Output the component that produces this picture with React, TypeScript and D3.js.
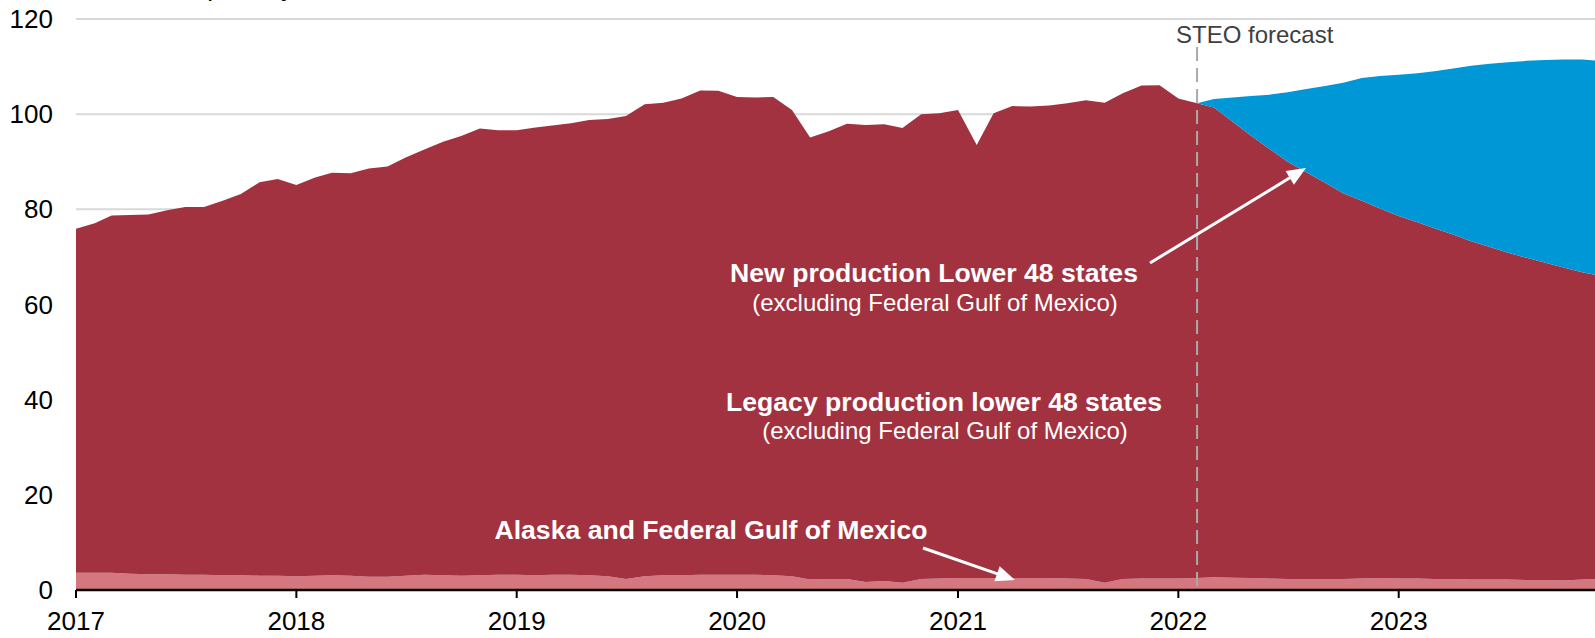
import React from "react";
import * as d3 from "d3";

// Monthly values, Jan 2017 – Dec 2023 (billion cubic feet per day)
const startYear = 2017;
const monthCount = 84;
const forecastStart = 61; // index of Feb 2022

const alaskaGom = [
  3.6, 3.6, 3.6, 3.4, 3.3, 3.3, 3.2, 3.2, 3.1, 3.1, 3.0, 3.0,
  2.9, 3.0, 3.1, 3.0, 2.8, 2.8, 3.0, 3.2, 3.1, 3.0, 3.1, 3.2,
  3.2, 3.1, 3.2, 3.2, 3.1, 2.9, 2.3, 2.9, 3.1, 3.1, 3.2, 3.2,
  3.2, 3.2, 3.1, 2.9, 2.2, 2.3, 2.3, 1.7, 1.9, 1.5, 2.3, 2.4,
  2.5, 2.5, 2.5, 2.5, 2.5, 2.5, 2.4, 2.3, 1.5, 2.3, 2.4, 2.4,
  2.4, 2.5, 2.7, 2.6, 2.5, 2.4, 2.3, 2.3, 2.3, 2.3, 2.4, 2.5,
  2.4, 2.4, 2.3, 2.3, 2.2, 2.2, 2.2, 2.1, 2.1, 2.0, 2.2, 2.3,
];

const legacyL48 = [
  72.3, 73.5, 75.1, 75.4, 75.6, 76.5, 77.3, 77.3, 78.7, 80.1, 82.7, 83.4,
  82.2, 83.7, 84.6, 84.6, 85.8, 86.2, 87.9, 89.4, 91.1, 92.4, 93.9, 93.4,
  93.4, 94.1, 94.4, 94.9, 95.7, 96.1, 97.3, 99.2, 99.3, 100.2, 101.8, 101.7,
  100.4, 100.3, 100.5, 98.0, 92.9, 94.1, 95.7, 96.0, 96.0, 95.6, 97.7, 97.8,
  98.4, 91.0, 97.7, 99.2, 99.1, 99.3, 99.9, 100.6, 100.9, 102.1, 103.6, 103.7,
  100.9, 99.8, 98.7, 95.8, 93.0, 90.3, 87.7, 85.5, 83.3, 81.1, 79.4, 77.7,
  76.2, 74.9, 73.7, 72.4, 71.1, 69.9, 68.7, 67.7, 66.7, 65.8, 64.6, 63.7,
];

const newL48 = [
  0, 0, 0, 0, 0, 0, 0, 0, 0, 0, 0, 0,
  0, 0, 0, 0, 0, 0, 0, 0, 0, 0, 0, 0,
  0, 0, 0, 0, 0, 0, 0, 0, 0, 0, 0, 0,
  0, 0, 0, 0, 0, 0, 0, 0, 0, 0, 0, 0,
  0, 0, 0, 0, 0, 0, 0, 0, 0, 0, 0, 0,
  0, 0, 1.8, 5.1, 8.3, 11.4, 14.6, 17.5, 20.3, 23.2, 25.8, 27.8,
  29.7, 31.3, 33.0, 34.9, 36.9, 38.5, 40.0, 41.4, 42.6, 43.7, 44.7, 45.2,
];

const yearTicks = [2017, 2018, 2019, 2020, 2021, 2022, 2023];
const yTicks = [0, 20, 40, 60, 80, 100, 120];

const W = 1595;
const H = 638;
const FONT = "Arial, 'Liberation Sans', Helvetica, sans-serif";

const C_RED = "#A23240";
const C_PINK = "#D5777F";
const C_BLUE = "#0097D7";

type Row = { date: Date; m: number; alaska: number; legacy: number; newProd: number };

const rows: Row[] = d3.range(monthCount).map((i) => ({
  date: new Date(Date.UTC(startYear, i, 1)),
  m: i,
  alaska: alaskaGom[i],
  legacy: legacyL48[i],
  newProd: newL48[i],
}));

function Arrow({ x1, y1, x2, y2 }: { x1: number; y1: number; x2: number; y2: number }) {
  const dx = x2 - x1;
  const dy = y2 - y1;
  const len = Math.hypot(dx, dy);
  const ux = dx / len;
  const uy = dy / len;
  const hl = 19;
  const hw = 8;
  const bx = x2 - ux * hl;
  const by = y2 - uy * hl;
  const pts = [
    [x2, y2],
    [bx - uy * hw, by + ux * hw],
    [bx + uy * hw, by - ux * hw],
  ]
    .map((p) => p.join(","))
    .join(" ");
  return (
    <g>
      <line x1={x1} y1={y1} x2={bx + ux * 2} y2={by + uy * 2} stroke="#fff" strokeWidth={3} />
      <polygon points={pts} fill="#fff" />
    </g>
  );
}

export default function App() {
  const x = d3
    .scaleUtc()
    .domain([new Date(Date.UTC(2017, 0, 1)), new Date(Date.UTC(2023, 0, 1))])
    .range([76, 1398.7]);
  const y = d3.scaleLinear().domain([0, 120]).range([590, 19]);

  const stack = d3.stack<Row>().keys(["alaska", "legacy", "newProd"]);
  const series = stack(rows);

  const area = d3
    .area<d3.SeriesPoint<Row>>()
    .x((d) => x(d.data.date))
    .y0((d) => y(d[0]))
    .y1((d) => y(d[1]));

  const blueArea = d3
    .area<d3.SeriesPoint<Row>>()
    .defined((d) => d.data.m >= forecastStart)
    .x((d) => x(d.data.date))
    .y0((d) => y(d[0]))
    .y1((d) => y(d[1]));

  const fx = x(new Date(Date.UTC(2022, 1, 1)));

  return (
    <svg
      width={W}
      height={H}
      style={{ position: "absolute", left: 0, top: 0, background: "#fff" }}
      fontFamily={FONT}
    >
      <rect x={0} y={0} width={W} height={H} fill="#fff" />
      <text x={15} y={-4} fontSize={26} fill="#000">
        billion cubic feet per day
      </text>
      {yTicks
        .filter((t) => t > 0)
        .map((t) => (
          <line key={t} x1={76} x2={W} y1={y(t)} y2={y(t)} stroke="#D9D9D9" strokeWidth={2} />
        ))}
      <path d={area(series[0]) || ""} fill={C_PINK} />
      <path d={area(series[1]) || ""} fill={C_RED} />
      <path d={blueArea(series[2]) || ""} fill={C_BLUE} />

      <line
        x1={fx}
        x2={fx}
        y1={47}
        y2={590}
        stroke="#A9A9A9"
        strokeWidth={2}
        strokeDasharray="14,7"
      />
      <text x={1176} y={43} fontSize={24} fill="#404040">
        STEO forecast
      </text>

      <line x1={76} x2={W} y1={590} y2={590} stroke="#000" strokeWidth={2.5} />
      {yearTicks.map((yr) => {
        const px = x(new Date(Date.UTC(yr, 0, 1)));
        return (
          <g key={yr}>
            <line x1={px} x2={px} y1={590} y2={598} stroke="#000" strokeWidth={2} />
            <text x={px} y={630} fontSize={26} textAnchor="middle" fill="#000">
              {yr}
            </text>
          </g>
        );
      })}
      {yTicks.map((t) => (
        <text key={t} x={53} y={y(t)} dy="0.35em" fontSize={26} textAnchor="end" fill="#000">
          {t}
        </text>
      ))}

      <text x={934} y={282} fontSize={26.6} fontWeight="bold" textAnchor="middle" fill="#fff">
        New production Lower 48 states
      </text>
      <text x={935} y={311} fontSize={24} textAnchor="middle" fill="#fff">
        (excluding Federal Gulf of Mexico)
      </text>
      <text x={944} y={411} fontSize={26.6} fontWeight="bold" textAnchor="middle" fill="#fff">
        Legacy production lower 48 states
      </text>
      <text x={945} y={439} fontSize={24} textAnchor="middle" fill="#fff">
        (excluding Federal Gulf of Mexico)
      </text>
      <text x={711} y={539} fontSize={26.6} fontWeight="bold" textAnchor="middle" fill="#fff">
        Alaska and Federal Gulf of Mexico
      </text>

      <Arrow x1={1150} y1={263} x2={1306} y2={168} />
      <Arrow x1={923} y1={548} x2={1015} y2={580} />
    </svg>
  );
}
